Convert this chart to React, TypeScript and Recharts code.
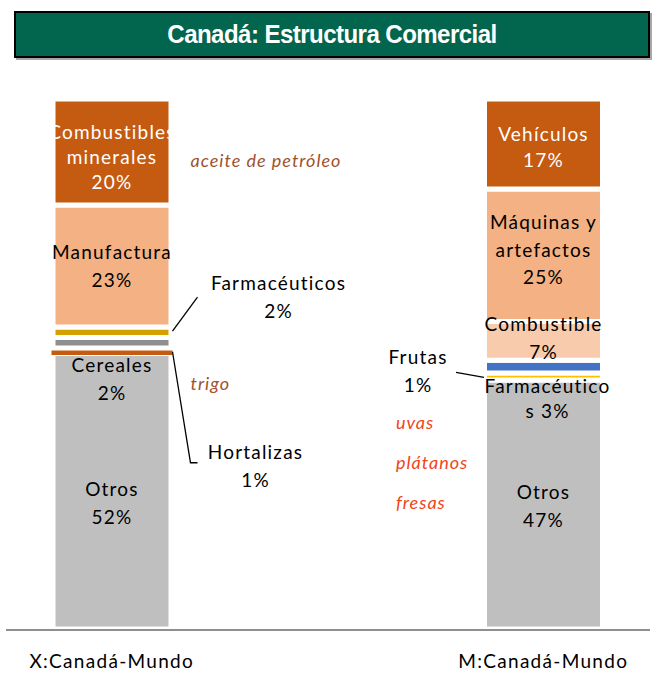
import { Bar, BarChart, Cell, LabelList, XAxis, YAxis } from 'recharts';

// categorias y tramos apilados (de abajo hacia arriba), % del total
const categorias = ['X:Canadá-Mundo', 'M:Canadá-Mundo'];
const otros = [52, 47];
const tramo2 = [1, 1.3]; // Hortalizas | Frutas
const tramo3 = [2, 2.4]; // Cereales | Farmacéuticos
const tramo4 = [2, 7.3]; // Farmacéuticos | Combustible
const tramo5 = [23, 25]; // Manufactura | Máquinas y artefactos
const tramo6 = [20, 17]; // Combustibles minerales | Vehículos

const colores1 = ['#bfbfbf', '#bfbfbf'];
const colores2 = ['#c55a11', '#ffc000'];
const colores3 = ['#8f8f8f', '#4472c4'];
const colores4 = ['#d4a000', '#f8cbad'];
const colores5 = ['#f4b183', '#f4b183'];
const colores6 = ['#c55a11', '#c55a11'];

const data = categorias.map((name, i) => ({
  name,
  t1: otros[i],
  t2: tramo2[i],
  t3: tramo3[i],
  t4: tramo4[i],
  t5: tramo5[i],
  t6: tramo6[i],
}));

const FONT = 'Lato, "Open Sans", sans-serif';
const MARRON = '#a0522d';
const ROJO = '#f0441a';

type Nota = {
  lines: string[];
  ref?: 'center' | 'left' | 'right';
  dx?: number;
  dy?: number;
  color?: string;
  italic?: boolean;
  anchor?: 'middle' | 'start';
  gap?: number;
  lead?: [number, number][];
};

// notas por tramo: [barra X, barra M]
const notas1: Nota[][] = [
  [{ lines: ['Otros', '52%'], dy: 11 }],
  [{ lines: ['Otros', '47%'], dy: 1 }],
];
const notas2: Nota[][] = [
  [{ lines: ['Hortalizas', '1%'], ref: 'right', dx: 84.5, dy: 115, lead: [[1.5, 1], [19.5, 112], [26.5, 112]] }],
  [
    { lines: ['Frutas', '1%'], ref: 'left', dx: -66.5, dy: -6, lead: [[-28.5, -4], [-0.5, 1]] },
    { lines: ['uvas', 'plátanos', 'fresas'], ref: 'left', dx: -88.5, dy: 86, gap: 40, italic: true, anchor: 'start', color: ROJO },
  ],
];
const notas3: Nota[][] = [
  [
    { lines: ['Cereales', '2%'], dy: 36 },
    { lines: ['trigo'], ref: 'right', dx: 19.5, dy: 40, italic: true, anchor: 'start', color: MARRON },
  ],
  [{ lines: ['Farmacéutico', 's 3%'], dx: 4, dy: 31, gap: 25 }],
];
const notas4: Nota[][] = [
  [{ lines: ['Farmacéuticos', '2%'], ref: 'right', dx: 107.5, dy: -36, lead: [[1.5, -1], [26.5, -35]] }],
  [{ lines: ['Combustible', '7%'], dy: -3 }],
];
const notas5: Nota[][] = [
  [{ lines: ['Manufactura', '23%'], dy: 0 }],
  [{ lines: ['Máquinas y', 'artefactos', '25%'], dy: -6, gap: 27.5 }],
];
const notas6: Nota[][] = [
  [
    { lines: ['Combustibles', 'minerales', '20%'], dy: 4, gap: 25, color: '#fff' },
    { lines: ['aceite de petróleo'], ref: 'right', dx: 19.5, dy: 8, italic: true, anchor: 'start', color: MARRON },
  ],
  [{ lines: ['Vehículos', '17%'], dy: 2, gap: 26, color: '#fff' }],
];

const renderNotas = (notas: Nota[][]) => (props: any) => {
  const vb = props.viewBox ?? {};
  const x = Number(props.x ?? vb.x);
  const y = Number(props.y ?? vb.y);
  const w = Number(props.width ?? vb.width);
  const h = Number(props.height ?? vb.height);
  const list = notas[props.index] ?? [];
  const cy = y + h / 2;
  return (
    <g>
      {list.map((n, k) => {
        const ox = n.ref === 'right' ? x + w : n.ref === 'left' ? x : x + w / 2;
        const gap = n.gap ?? 28;
        const top = cy + (n.dy ?? 0) - ((n.lines.length - 1) * gap) / 2;
        return (
          <g key={k}>
            {n.lead && (
              <polyline
                points={n.lead.map(([a, b]) => `${(n.ref === 'left' ? x : x + w) + a},${cy + b}`).join(' ')}
                fill="none"
                stroke="#000"
                strokeWidth={1.3}
              />
            )}
            {n.lines.map((t, j) => (
              <text
                key={j}
                x={ox + (n.dx ?? 0)}
                y={top + j * gap}
                textAnchor={n.anchor ?? 'middle'}
                dominantBaseline="central"
                fontFamily={FONT}
                fontSize={n.italic ? 18 : 19}
                fontStyle={n.italic ? 'italic' : 'normal'}
                letterSpacing={n.italic ? 1 : 1.2}
                fill={n.color ?? '#000'}
              >
                {t}
              </text>
            ))}
          </g>
        );
      })}
    </g>
  );
};

const tramos = [
  { key: 't1', colores: colores1, notas: notas1 },
  { key: 't2', colores: colores2, notas: notas2 },
  { key: 't3', colores: colores3, notas: notas3 },
  { key: 't4', colores: colores4, notas: notas4 },
  { key: 't5', colores: colores5, notas: notas5 },
  { key: 't6', colores: colores6, notas: notas6 },
];

export default function App() {
  return (
    <div style={{ position: 'absolute', left: 0, top: 0, width: 652, height: 678, background: '#fff' }}>
      <div
        style={{
          position: 'absolute',
          left: 14,
          top: 11,
          width: 636,
          height: 47,
          boxSizing: 'border-box',
          background: '#02654e',
          border: '2px solid #000',
          boxShadow: '2px 2px 0 #a6a6a6',
          color: '#fff',
          fontFamily: '"Liberation Sans", Arial, sans-serif',
          fontWeight: 700,
          fontSize: 26,
          letterSpacing: -0.6,
          textAlign: 'center',
          lineHeight: '43px',
        }}
      >
        <span style={{ display: 'inline-block', transform: 'scaleX(0.925)' }}>Canadá: Estructura Comercial</span>
      </div>
      <BarChart
        width={652}
        height={678}
        data={data}
        margin={{ top: 99, right: -107, bottom: 0, left: -104 }}
        barSize={118}
      >
        <XAxis
          dataKey="name"
          axisLine={false}
          tickLine={false}
          tickSize={0}
          tickMargin={26}
          height={49}
          interval={0}
          tick={{ fill: '#000', fontSize: 19, fontFamily: FONT, letterSpacing: 1.3 }}
        />
        <YAxis hide domain={[0, 100]} />
        {tramos.map((t) => (
          <Bar key={t.key} dataKey={t.key} stackId="a" isAnimationActive={false}>
            {data.map((_, i) => {
              const propio = t.key === 't2' && i === 0;
              return (
                <Cell
                  key={i}
                  fill={t.colores[i]}
                  stroke={propio ? t.colores[i] : '#fff'}
                  strokeWidth={propio ? 3 : 5}
                />
              );
            })}
            <LabelList dataKey={t.key} content={renderNotas(t.notas)} />
          </Bar>
        ))}
      </BarChart>
      <div style={{ position: 'absolute', left: 6, top: 629, width: 644, height: 2, background: '#8f8f8f' }} />
    </div>
  );
}
